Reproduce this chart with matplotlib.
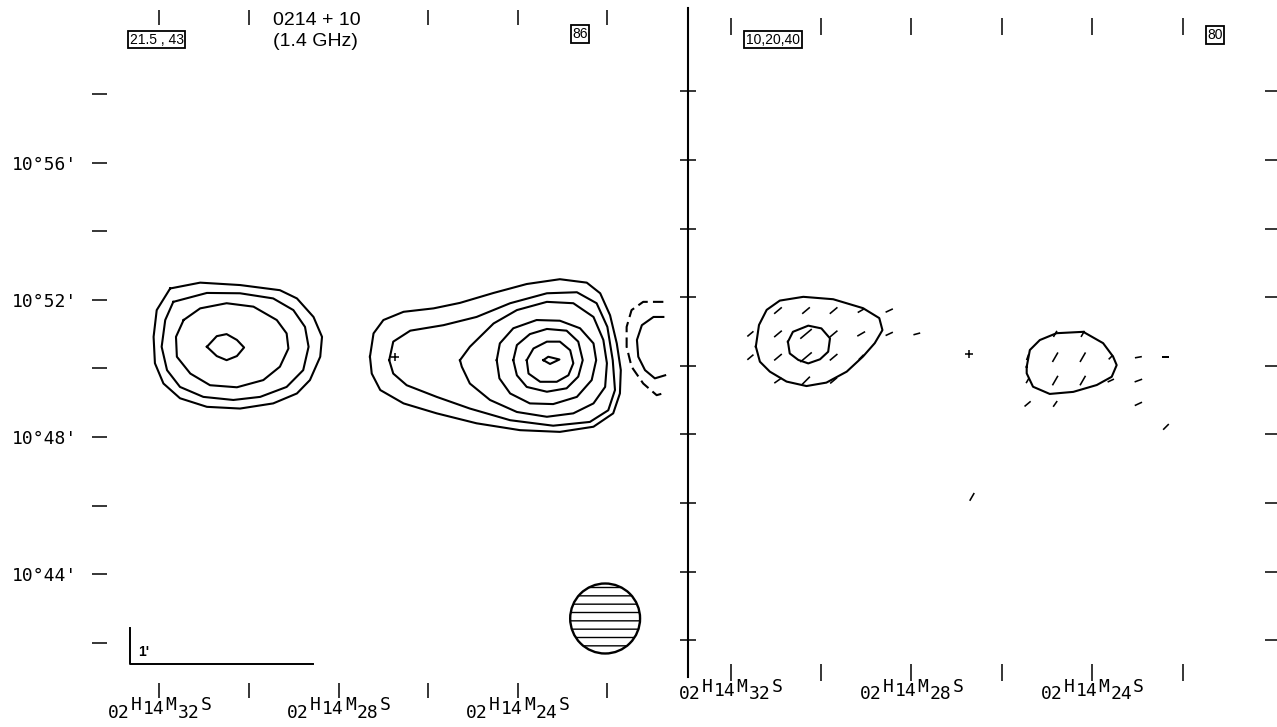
import matplotlib
matplotlib.use('Agg')
import matplotlib.pyplot as plt
import numpy as np
from matplotlib.lines import Line2D
from matplotlib.patches import Ellipse

# RA in seconds after 02h14m, Dec in arcmin after 10 deg
ra_ticks = [32, 30, 28, 26, 24, 22]
left_top_ticks = [32, 30, 26, 24, 22]
ra_label_secs = [32, 28, 24]
dec_ticks = [58, 56, 54, 52, 50, 48, 46, 44, 42]
dec_label_vals = [56, 52, 48, 44]

# left map (total intensity), contours as (ra, dec) vertices
left_a1 = [(31.76, 52.33), (31.09, 52.50), (30.20, 52.43), (29.31, 52.28), (28.93, 52.04), (28.56, 51.50),
           (28.37, 50.92), (28.41, 50.34), (28.64, 49.66), (28.93, 49.27), (29.46, 48.98), (30.20, 48.83),
           (30.94, 48.88), (31.54, 49.13), (31.91, 49.56), (32.10, 50.15), (32.13, 50.92), (32.06, 51.70)]
left_a2 = [(31.69, 51.94), (30.94, 52.20), (30.20, 52.19), (29.46, 52.04), (29.01, 51.70), (28.75, 51.21),
           (28.67, 50.63), (28.79, 49.95), (29.16, 49.46), (29.75, 49.17), (30.35, 49.08), (31.02, 49.17),
           (31.54, 49.46), (31.83, 49.95), (31.95, 50.63), (31.87, 51.41)]
left_a3 = [(31.46, 51.41), (31.09, 51.75), (30.50, 51.90), (29.90, 51.80), (29.38, 51.41), (29.16, 51.02),
           (29.12, 50.58), (29.31, 50.05), (29.68, 49.66), (30.27, 49.45), (30.87, 49.51), (31.31, 49.85),
           (31.61, 50.34), (31.63, 50.92)]
left_a4 = [(30.94, 50.63), (30.72, 50.94), (30.50, 51.00), (30.27, 50.83), (30.11, 50.61), (30.27, 50.36),
           (30.50, 50.24), (30.72, 50.36)]

left_b1 = [(27.30, 50.34), (27.22, 51.02), (27.00, 51.41), (26.55, 51.65), (25.88, 51.75), (25.29, 51.91),
           (24.54, 52.20), (23.80, 52.46), (23.06, 52.60), (22.46, 52.50), (22.16, 52.19), (21.94, 51.55),
           (21.79, 50.73), (21.70, 49.95), (21.72, 49.27), (21.87, 48.69), (22.31, 48.30), (23.06, 48.15),
           (23.95, 48.20), (24.92, 48.40), (25.81, 48.69), (26.55, 48.98), (27.07, 49.37), (27.26, 49.85)]
left_b2 = [(26.87, 50.24), (26.78, 50.78), (26.40, 51.10), (25.66, 51.26), (24.92, 51.50), (24.17, 51.90),
           (23.35, 52.19), (22.68, 52.22), (22.24, 51.90), (22.00, 51.21), (21.88, 50.24), (21.83, 49.37),
           (21.98, 48.78), (22.39, 48.44), (23.21, 48.33), (24.17, 48.49), (25.07, 48.83), (25.81, 49.17),
           (26.48, 49.51), (26.78, 49.85)]
left_b3 = [(25.29, 50.24), (25.07, 50.63), (24.54, 51.31), (24.02, 51.70), (23.35, 51.94), (22.76, 51.90),
           (22.31, 51.50), (22.09, 50.83), (22.01, 50.15), (22.05, 49.46), (22.31, 48.98), (22.76, 48.69),
           (23.35, 48.59), (24.02, 48.73), (24.62, 49.08), (25.07, 49.56), (25.25, 50.05)]
left_b4 = [(24.47, 50.24), (24.40, 50.73), (24.10, 51.17), (23.58, 51.41), (23.06, 51.39), (22.61, 51.17),
           (22.31, 50.73), (22.25, 50.24), (22.35, 49.66), (22.68, 49.17), (23.21, 48.96), (23.73, 48.98),
           (24.17, 49.27), (24.41, 49.71)]
left_b5 = [(24.10, 50.24), (24.02, 50.68), (23.73, 51.00), (23.35, 51.15), (22.91, 51.10), (22.65, 50.78),
           (22.55, 50.24), (22.65, 49.76), (22.91, 49.42), (23.35, 49.32), (23.80, 49.46), (24.02, 49.80)]
left_b6 = [(23.80, 50.24), (23.65, 50.58), (23.35, 50.78), (23.06, 50.78), (22.83, 50.53), (22.76, 50.15),
           (22.87, 49.80), (23.13, 49.61), (23.50, 49.61), (23.76, 49.85)]
left_b7 = [(23.43, 50.24), (23.32, 50.34), (23.07, 50.26), (23.28, 50.13)]

# open contours at the map edge
left_c_dashed = [(20.75, 51.94), (21.20, 51.94), (21.46, 51.70), (21.57, 51.21), (21.57, 50.63),
                 (21.46, 50.05), (21.20, 49.56), (20.90, 49.22), (20.71, 49.29)]
left_c_solid = [(20.75, 51.50), (20.97, 51.50), (21.23, 51.26), (21.34, 50.83), (21.31, 50.34),
                (21.16, 49.95), (20.94, 49.71), (20.71, 49.80)]

# right map (polarised intensity)
right_a1 = [(31.44, 50.56), (31.37, 51.19), (31.20, 51.63), (30.91, 51.90), (30.39, 52.01), (29.73, 51.94),
            (29.07, 51.68), (28.71, 51.39), (28.64, 51.04), (28.81, 50.66), (29.07, 50.27), (29.43, 49.83),
            (29.88, 49.51), (30.32, 49.41), (30.76, 49.54), (31.13, 49.83), (31.35, 50.12)]
right_a2 = [(30.73, 50.70), (30.62, 50.99), (30.28, 51.17), (29.99, 51.09), (29.80, 50.80), (29.84, 50.41),
            (30.02, 50.19), (30.28, 50.07), (30.50, 50.17), (30.69, 50.36)]
right_b1 = [(25.45, 49.97), (25.38, 50.46), (25.16, 50.75), (24.79, 50.95), (24.20, 50.99), (23.76, 50.66),
            (23.54, 50.27), (23.46, 50.02), (23.57, 49.68), (23.90, 49.44), (24.42, 49.24), (24.94, 49.18),
            (25.31, 49.39), (25.45, 49.78)]

# E-vectors: ra, dec, length (px), angle on the page (deg)
vec_ra = [30.95, 30.33, 29.72, 29.11, 28.49,
          31.56, 30.95, 30.33, 29.72, 29.11, 28.49, 27.88,
          31.56, 30.95, 30.33, 29.72, 29.11,
          30.95, 30.33, 29.72,
          24.82, 24.21,
          25.43, 24.82, 24.21, 23.59, 22.98, 22.37,
          25.43, 24.82, 24.21, 23.59, 22.98,
          25.43, 24.82, 22.98,
          22.37, 26.66]
vec_dec = [51.61, 51.61, 51.61, 51.61, 51.61,
           50.93, 50.93, 50.93, 50.93, 50.93, 50.93, 50.93,
           50.25, 50.25, 50.25, 50.25, 50.25,
           49.57, 49.57, 49.57,
           50.93, 50.93,
           50.25, 50.25, 50.25, 50.25, 50.25, 50.25,
           49.57, 49.57, 49.57, 49.57, 49.57,
           48.89, 48.89, 48.89,
           48.22, 46.18]
vec_len = [10, 10, 10, 8, 8,
           8, 10, 15, 10, 9, 8, 7,
           8, 10, 15, 10, 7,
           9, 11, 9,
           7, 7,
           6, 11, 11, 6, 7, 7,
           6, 11, 11, 7, 8,
           8, 7, 8,
           8, 9]
vec_ang = [40, 40, 40, 30, 25,
           40, 40, 40, 40, 30, 25, 15,
           40, 40, 40, 40, 45,
           35, 45, 40,
           60, 60,
           70, 60, 60, 45, 10, 0,
           60, 60, 60, 25, 20,
           40, 55, 25,
           45, 60]

cross_ra, cross_dec = 26.73, 50.34
beam_ra, beam_dec, beam_w, beam_h = 22.05, 42.71, 1.56, 2.04
scalebar_ra = [32.65, 32.65, 28.57]
scalebar_dec = [42.43, 41.38, 41.38]

W, H = 1277, 727
plt.rcParams['font.family'] = ['DejaVu Sans Mono']
sans = ['Liberation Sans', 'DejaVu Sans']

fig = plt.figure(figsize=(W / 100, H / 100), dpi=100)
axL = fig.add_axes([107 / W, 1 - 683 / H, (688 - 107) / W, (683 - 25) / H])
axR = fig.add_axes([688 / W, 1 - 664 / H, (1265 - 688) / W, (664 - 35) / H])
axL.set_xlim(33.17, 20.20)
axL.set_ylim(40.83, 60.01)
axR.set_xlim(32.94, 20.18)
axR.set_ylim(41.31, 59.64)

for ax in (axL, axR):
    for s in ax.spines.values():
        s.set_visible(False)
    ax.set_xticks(ra_ticks)
    ax.set_xticklabels([])
    ax.set_yticks(dec_ticks)


def draw(ax, pts, closed=True, **kw):
    ra = [p[0] for p in pts]
    dec = [p[1] for p in pts]
    if closed:
        ra.append(ra[0])
        dec.append(dec[0])
    ax.plot(ra, dec, color='black', lw=1.5, solid_joinstyle='round', **kw)


for c in [left_a1, left_a2, left_a3, left_a4, left_b1, left_b2, left_b3,
          left_b4, left_b5, left_b6, left_b7]:
    draw(axL, c)
draw(axL, left_c_dashed, closed=False, ls=(0, (5, 2.5)))
draw(axL, left_c_solid, closed=False)
for c in [right_a1, right_a2, right_b1]:
    draw(axR, c)

ang = np.radians(vec_ang)
u = np.array(vec_len) * np.cos(ang)
v = np.array(vec_len) * np.sin(ang)
axR.quiver(vec_ra, vec_dec, u, v, angles='uv', scale_units='dots', scale=1,
           pivot='middle', headwidth=0, headlength=0, headaxislength=0,
           units='dots', width=1.6, color='black')

for ax in (axL, axR):
    ax.plot(cross_ra, cross_dec, marker='+', ms=6, mew=1.1, color='black')

axL.add_patch(Ellipse((beam_ra, beam_dec), beam_w, beam_h, fc='white',
                      ec='black', lw=1.7, hatch='--'))
axL.plot(scalebar_ra, scalebar_dec, color='black', lw=1.4)
axL.text(scalebar_ra[0] - 0.17, scalebar_dec[1] + 0.35, "1'", family=sans,
         fontsize=10, fontweight='bold', ha='left', va='center')

# ticks
axL.set_yticklabels(["10°%d'" % d if d in dec_label_vals else '' for d in dec_ticks])
axL.tick_params(axis='y', direction='out', length=10.8, width=1.1, left=True,
                right=False, pad=10.5, labelsize=13)
axL.tick_params(axis='x', direction='out', length=10.8, width=1.1, top=False,
                bottom=True)
topL = axL.secondary_xaxis('top')
topL.set_xticks(left_top_ticks)
topL.set_xticklabels([])
topL.tick_params(direction='out', length=10.8, width=1.1)
topL.spines['top'].set_visible(False)

axR.set_yticklabels([])
axR.tick_params(axis='y', direction='inout', length=12.2, width=1.1, left=True,
                right=False)
axR.tick_params(axis='x', direction='out', length=12, width=1.1, top=True,
                bottom=True)
sec = axR.secondary_yaxis('right')
sec.set_yticks(dec_ticks)
sec.set_yticklabels([])
sec.tick_params(direction='out', length=8.6, width=1.1)
sec.spines['right'].set_visible(False)

# RA labels: 02 H 14 M ss S, the unit letters raised
cw = 11.6 * 0.72  # one character cell, in points
for ax in (axL, axR):
    for s in ra_label_secs:
        pieces = [('02', -3.5, 30), ('H', -2, 22.5), ('14', -0.5, 26.5),
                  ('M', 1, 22.5), ('%d' % s, 2.5, 30), ('S', 4, 22.5)]
        for txt, pos, off in pieces:
            ax.annotate(txt, xy=(s, 0), xycoords=ax.get_xaxis_transform(),
                        xytext=(pos * cw, -off * 0.72), textcoords='offset points',
                        ha='center', va='center', fontsize=13,
                        annotation_clip=False)

# divider between the two maps
fig.add_artist(Line2D([688 / W, 688 / W], [1 - 8 / H, 1 - 677 / H],
                      color='black', lw=1.5, transform=fig.transFigure))

# header texts
fig.text(273 / W, 1 - 20.5 / H, '0214 + 10', family=sans, fontsize=14,
         ha='left', va='center')
fig.text(273 / W, 1 - 42 / H, '(1.4 GHz)', family=sans, fontsize=14,
         ha='left', va='center')
box = dict(boxstyle='square,pad=0.12', fc='white', ec='black', lw=1.3)
fig.text(156.5 / W, 1 - 39.5 / H, '21.5 , 43', family=sans, fontsize=10,
         ha='center', va='center', bbox=box)
fig.text(580 / W, 1 - 34 / H, '86', family=sans, fontsize=10,
         ha='center', va='center', bbox=box)
fig.text(773 / W, 1 - 39.5 / H, '10,20,40', family=sans, fontsize=10,
         ha='center', va='center', bbox=box)
fig.text(1215 / W, 1 - 35 / H, '80', family=sans, fontsize=10,
         ha='center', va='center', bbox=box)

fig.savefig('out.png', dpi=100)
